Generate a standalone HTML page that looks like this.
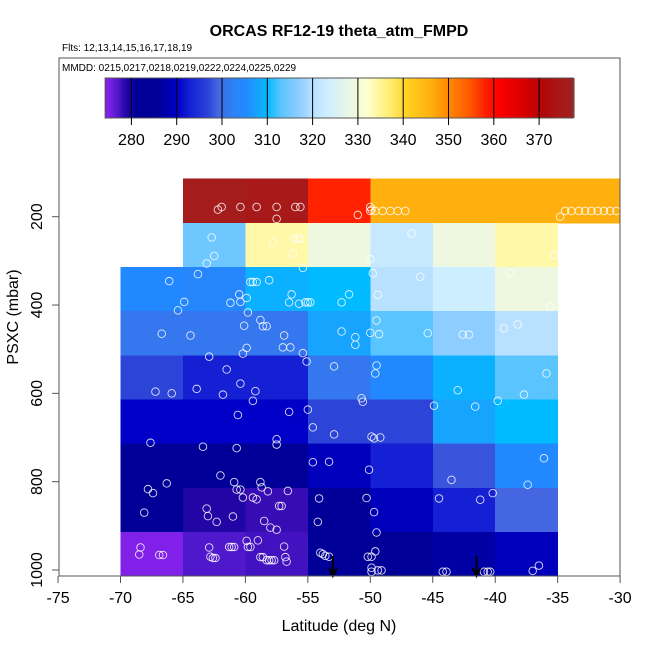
<!DOCTYPE html>
<html><head><meta charset="utf-8"><style>
html,body{margin:0;padding:0;background:#fff;}
svg text{font-family:"Liberation Sans",sans-serif;}
</style></head><body>
<svg id="chart" width="650" height="650" viewBox="0 0 650 650" xmlns="http://www.w3.org/2000/svg">
<rect width="650" height="650" fill="#fff"/>
<text x="339" y="36" font-size="16" font-weight="bold" text-anchor="middle">ORCAS RF12-19 theta_atm_FMPD</text>
<text x="62" y="51" font-size="10">Flts: 12,13,14,15,16,17,18,19</text>
<g id="cells" shape-rendering="crispEdges"></g>
<g id="pts"></g>
<g id="arrows"></g>
<rect x="59" y="58" width="561" height="518" fill="none" stroke="#555" stroke-width="1"/>
<text x="62" y="71" font-size="10">MMDD: 0215,0217,0218,0219,0222,0224,0225,0229</text>
<g id="cbar"></g>
<g id="xaxis"></g>
<g id="yaxis"></g>
<text x="339" y="631" font-size="16" text-anchor="middle">Latitude (deg N)</text>
<text x="18" y="317" font-size="16" text-anchor="middle" transform="rotate(-90 18 317)">PSXC (mbar)</text>
</svg>
<script>
const latEdges = [-70,-65,-60,-55,-50,-45,-40,-35,-30];
const presEdges = [114,214,314,414,514,614,714,814,914,1014];
const row0 = [null,376,375,358,346,346,346,346];
const row1 = [null,314.5,334,329,322,329,334,null];
const row2 = [305,304,309,310,320,323,329,null];
const row3 = [301,301,301,308,313,317,320,null];
const row4 = [297,293,293,301,305,309,313,null];
const row5 = [290,290,290,297,297,308,310,null];
const row6 = [285,285,285,289,293,298,305,null];
const row7 = [285,279,278,285,289,293,299,null];
const row8 = [275,277,277.5,285,285,287,289,null];
const rows = [row0,row1,row2,row3,row4,row5,row6,row7,row8];
const cbTicks = [280,290,300,310,320,330,340,350,360,370];
const xTicks = [-75,-70,-65,-60,-55,-50,-45,-40,-35,-30];
const yTicks = [200,400,600,800,1000];
const arrowLats = [-53.0,-41.5];
const ptLat = [-62.7,-57.8,-56.1,-55.8,-55.6,-56.2,-62.5,-63.1,-63.8,-66.1,-64.9,-65.4,-60.5,-61.2,-60.4,-59.9,-59.8,-59.6,-59.4,-59.1,-58.1,-56.3,-56.5,-55.7,-55.2,-55.0,-54.8,-55.4,-52.3,-51.7,-50.0,-49.8,-49.4,-46.7,-46.0,-38.8,-35.3,-35.6,-58.8,-58.6,-58.3,-60.1,-66.7,-64.4,-56.9,-57.0,-56.4,-59.9,-60.2,-55.4,-55.1,-52.3,-51.2,-51.2,-50.0,-49.3,-49.5,-45.4,-42.6,-42.1,-39.3,-38.2,-62.9,-61.5,-60.4,-63.9,-61.8,-59.2,-59.4,-67.2,-65.9,-60.6,-56.5,-55.0,-52.9,-49.5,-49.6,-50.7,-50.6,-44.9,-43.0,-41.6,-39.8,-37.7,-35.9,
-54.6,-52.9,-49.9,-49.7,-49.2,-67.6,-57.5,-57.5,-63.4,-60.7,-54.6,-53.3,-50.1,-36.1,-62.0,-66.3,-60.9,-58.8,-58.7,-60.7,-60.4,-58.2,-56.6,-67.8,-67.4,-43.5,-37.4,-60.2,-59.4,-59.1,-57.3,-57.1,-63.1,-63.0,-62.3,-61.0,-58.5,-58.0,-57.5,-68.1,-54.1,-54.2,-50.3,-49.7,-49.5,-44.5,-41.2,-40.2,-68.4,-68.5,-66.9,-66.6,-62.9,-62.8,-62.6,-62.4,-61.3,-61.1,-60.9,-59.9,-59.8,-59.6,-59.0,-58.8,-58.6,-58.3,-58.1,-57.9,-57.7,-56.9,-56.8,-56.7,-54.0,-53.8,-53.6,-53.3,-50.2,-49.9,-49.6,-49.9,-49.9,-49.4,-49.1,-44.2,-43.9,-40.9,-40.6,-40.4,-37.0,-36.5,
-62.2,-61.9,-60.4,-59.1,-57.5,-57.5,-56.0,-55.6,-51.0,-50.0,-49.9,-50.0,-49.6,-49.0,-48.4,-47.8,-47.2,-34.8,-34.4,-33.9,-33.3,-32.8,-32.3,-31.8,-31.3,-30.8,-30.3];
const ptPres = [247,259,250,250,250,284,289,306,330,346,393,412,376,395,393,384,417,348,348,348,344,376,394,397,394,394,394,316,394,376,296,328,377,238,336,328,287,404,434,448,448,447,465,469,469,496,496,497,510,509,528,460,473,490,463,466,435,464,467,467,453,444,517,546,578,590,603,595,617,596,600,649,642,637,539,537,555,611,619,628,593,630,617,603,555,
677,693,698,702,700,712,704,716,721,724,756,755,773,747,786,804,801,801,813,818,818,822,821,817,826,796,807,836,836,840,855,855,861,878,891,879,889,904,909,870,838,891,837,869,915,838,841,826,949,965,966,966,949,970,973,973,948,948,948,934,948,948,933,971,971,978,978,978,978,947,971,981,961,964,968,970,970,970,958,995,1004,1001,1001,1004,1004,1004,1004,1004,1002,990,
184,178,178,178,178,205,178,178,196,178,184,187,187,187,187,187,187,200,187,187,187,187,187,187,187,187,187];

const stops = [[275,'#8020e8'],[277,'#5018cc'],[278.5,'#2a06a8'],[281,'#000099'],[286,'#000099'],[288,'#0000b0'],[290,'#0000c8'],[293,'#1520d5'],[297,'#2c44d8'],[299,'#4466e0'],[301,'#3577ee'],[303,'#2a85f8'],[305,'#2288ff'],[308,'#16a4ff'],[310,'#00bbff'],[313,'#5ac4ff'],[317,'#8ecdff'],[320,'#b8e0ff'],[323,'#cdeeff'],[329,'#eef8e0'],[332,'#ffffd0'],[334,'#fff8a8'],[338,'#ffe860'],[341,'#ffd020'],[346,'#ffb00f'],[350,'#ff8800'],[355,'#ff5500'],[358,'#ff2200'],[361,'#ff0000'],[368,'#cc0000'],[371,'#b00808'],[375,'#a81a1a'],[378,'#a02020']];
function hex(h){return [1,3,5].map(i=>parseInt(h.substr(i,2),16));}
function cmap(v){
  if(v<=stops[0][0]) return stops[0][1];
  for(let i=1;i<stops.length;i++){
    if(v<=stops[i][0]){
      const a=hex(stops[i-1][1]),b=hex(stops[i][1]);
      const t=(v-stops[i-1][0])/(stops[i][0]-stops[i-1][0]);
      return 'rgb('+a.map((c,k)=>Math.round(c+(b[k]-c)*t)).join(',')+')';
    }
  }
  return stops[stops.length-1][1];
}
const X = lat => 120.5 + (lat+70)*12.49;
const Y = p => 216.7 + (p-200)*0.4416;
const CB = v => 131.4 + (v-280)*4.53;
const NS='http://www.w3.org/2000/svg';
function mk(tag,attrs,parent){const e=document.createElementNS(NS,tag);for(const k in attrs)e.setAttribute(k,attrs[k]);parent.appendChild(e);return e;}

const cells=document.getElementById('cells');
rows.forEach((r,ri)=>{
  r.forEach((v,ci)=>{
    if(v===null) return;
    const x0=X(latEdges[ci]), x1=X(latEdges[ci+1]);
    const y0=Y(presEdges[ri]), y1=Y(presEdges[ri+1]);
    const c=mk('rect',{x:x0,y:y0,width:x1-x0+0.5,height:y1-y0+0.5,fill:cmap(v)},cells);
    
    
  });
});
const pts=document.getElementById('pts');
ptLat.forEach((la,i)=>{
  const c=mk('circle',{cx:X(la),cy:Y(ptPres[i]),r:3.8,fill:'none',stroke:'#fff','stroke-opacity':0.85,'stroke-width':0.9},pts);
  
  
});
const ar=document.getElementById('arrows');
arrowLats.forEach(la=>{
  const g=mk('g',{},ar);
  
  
  mk('line',{x1:X(la),y1:556,x2:X(la),y2:575,stroke:'#000','stroke-width':2},g);
  mk('path',{d:`M${X(la)-4},568 L${X(la)},576 L${X(la)+4},568`,fill:'none',stroke:'#000','stroke-width':2},g);
});
const cb=document.getElementById('cbar');
const v0=274.2, v1=377.5;
for(let v=v0; v<v1; v+=0.25){
  mk('rect',{x:CB(v),y:78,width:1.8,height:40,fill:cmap(v+0.125),'shape-rendering':'crispEdges'},cb);
}
const cbBorder=mk('rect',{x:CB(v0),y:78,width:CB(v1)-CB(v0),height:40,fill:'none',stroke:'#555','stroke-width':1},cb);


cbTicks.forEach(t=>{
  mk('line',{x1:CB(t),y1:78,x2:CB(t),y2:125,stroke:'#000','stroke-width':1},cb);
  const tx=mk('text',{x:CB(t),y:145,'font-size':16,'text-anchor':'middle'},cb);
  tx.textContent=t;
  
  
});
const xa=document.getElementById('xaxis');
xTicks.forEach(t=>{
  mk('line',{x1:X(t),y1:576,x2:X(t),y2:583,stroke:'#555'},xa);
  const tx=mk('text',{x:X(t),y:603,'font-size':16,'text-anchor':'middle'},xa);
  tx.textContent=t;
  
  
});
const ya=document.getElementById('yaxis');
yTicks.forEach(t=>{
  mk('line',{x1:52,y1:Y(t),x2:59,y2:Y(t),stroke:'#555'},ya);
  const tx=mk('text',{x:42,y:Y(t),'font-size':16,'text-anchor':'middle',transform:`rotate(-90 42 ${Y(t)})`},ya);
  tx.textContent=t;
  
  
});
</script>
</body></html>
